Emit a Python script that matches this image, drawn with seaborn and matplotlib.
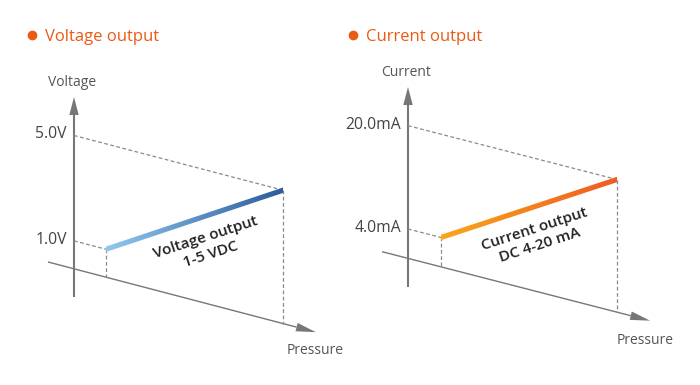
import numpy as np
import matplotlib
matplotlib.use("Agg")
import matplotlib.pyplot as plt
import pandas as pd
import seaborn as sns
from matplotlib.transforms import Affine2D
from matplotlib.patches import Polygon
from matplotlib.colors import LinearSegmentedColormap

# ---------------- data ----------------
panel_titles = ["Voltage output", "Current output"]
value_axis_labels = ["Voltage", "Current"]
pressure_label = "Pressure"
pressure_span = [0, 100]          # % of pressure range (min -> max)
voltage_values = [1.0, 5.0]       # V
current_values = [4.0, 20.0]      # mA
voltage_ticks = ["1.0V", "5.0V"]
current_ticks = ["4.0mA", "20.0mA"]
inner_labels = ["Voltage output\n1-5 VDC", "Current output\nDC 4-20 mA"]

# ---------------- style / layout ----------------
sns.set_theme(style="white")
plt.rcParams["font.family"] = ["Open Sans", "DejaVu Sans"]

ORANGE = "#ea5a14"
AXIS_GRAY = "#777777"
DASH_GRAY = "#8a8a8a"
TEXT_GRAY = "#555555"

panels = [
    dict(title=panel_titles[0], vlabel=value_axis_labels[0], values=voltage_values,
         ticks=voltage_ticks, inner=inner_labels[0],
         x0=106, sx=1.77, k=0.262, f=275.6, b=26.35, base_v=-0.06,
         axis_x=74, axis_bottom=297, axis_top=97, p_start=-32.8, p_end=118.6,
         title_xy=(32, 35), vlabel_xy=(72, 82), press_xy=(315, 351),
         inner_xy=(208, 246), cmap=["#8fc8ee", "#2c5c9c"]),
    dict(title=panel_titles[1], vlabel=value_axis_labels[1], values=current_values,
         ticks=current_ticks, inner=inner_labels[1],
         x0=441, sx=1.76, k=0.2575, f=263.3, b=6.456, base_v=-0.55,
         axis_x=408, axis_bottom=287, axis_top=87, p_start=-33.5, p_end=118.8,
         title_xy=(353, 35), vlabel_xy=(406, 73), press_xy=(645, 340),
         inner_xy=(537, 237), cmap=["#f8a81c", "#f15a22"]),
]

fig = plt.figure(figsize=(7, 3.85), dpi=100)
ax = fig.add_axes([0, 0, 1, 1])
ax.set_xlim(0, 700)
ax.set_ylim(385, 0)
ax.axis("off")


def arrow(x1, y1, x2, y2, lw, head_len, head_hw, color):
    d = np.array([x2 - x1, y2 - y1], float)
    L = np.hypot(*d)
    u = d / L
    n = np.array([-u[1], u[0]])
    base = np.array([x2, y2]) - u * head_len
    ax.plot([x1, base[0]], [y1, base[1]], color=color, lw=lw, solid_capstyle="butt")
    tri = np.array([[x2, y2], base + n * head_hw, base - n * head_hw])
    ax.fill(tri[:, 0], tri[:, 1], color=color, lw=0)


for P in panels:
    tr = Affine2D.from_values(P["sx"], P["k"] * P["sx"], 0, -P["b"], P["x0"], P["f"]) + ax.transData

    def to_px(p, v):
        return ax.transData.inverted().transform(tr.transform((p, v)))

    # title
    tx, ty = P["title_xy"]
    ax.plot([tx], [ty], "o", color=ORANGE, ms=7, mew=0)
    ax.text(tx + 13, ty, P["title"], color=ORANGE, fontsize=12, fontweight="medium",
            ha="left", va="center_baseline")

    # value axis (vertical arrow)
    arrow(P["axis_x"], P["axis_bottom"], P["axis_x"], P["axis_top"], 1.5, 18, 4.7, AXIS_GRAY)
    ax.text(*P["vlabel_xy"], P["vlabel"], color=TEXT_GRAY, fontsize=10, ha="center", va="center")

    # pressure axis (oblique arrow), at baseline level
    s = to_px(P["p_start"], P["base_v"])
    e = to_px(P["p_end"], P["base_v"])
    arrow(s[0], s[1], e[0], e[1], 1.0, 20, 4.3, AXIS_GRAY)
    ax.text(*P["press_xy"], pressure_label, color=TEXT_GRAY, fontsize=10, ha="center", va="center")

    p_axis = (P["axis_x"] - P["x0"]) / P["sx"]
    lo, hi = P["values"]

    # dashed guide lines (value level -> line endpoint) and drops to pressure axis
    guides = pd.DataFrame({
        "p": [p_axis, pressure_span[0], p_axis, pressure_span[1],
              pressure_span[0], pressure_span[0], pressure_span[1], pressure_span[1]],
        "v": [lo, lo, hi, hi, lo, P["base_v"], hi, P["base_v"]],
        "seg": [0, 0, 1, 1, 2, 2, 3, 3],
    })
    for _, g in guides.groupby("seg"):
        sns.lineplot(data=g, x="p", y="v", ax=ax, transform=tr, color=DASH_GRAY,
                     lw=0.9, linestyle=(0, (3, 2)), estimator=None, sort=False, legend=False)

    # tick labels
    for val, lab in zip(P["values"], P["ticks"]):
        px = to_px(p_axis, val)
        ax.text(P["axis_x"] - 7, px[1] - 1, lab, color="#444444", fontsize=11.3,
                ha="right", va="center")

    # gradient output line: clipped gradient image between the two data endpoints
    a = to_px(pressure_span[0], lo)
    c = to_px(pressure_span[1], hi)
    hw = 2.7
    poly = Polygon([[a[0], a[1] - hw], [c[0], c[1] - hw], [c[0], c[1] + hw], [a[0], a[1] + hw]],
                   closed=True, transform=ax.transData, facecolor="none", edgecolor="none")
    ax.add_patch(poly)
    cmap = LinearSegmentedColormap.from_list("g", P["cmap"])
    grad = np.linspace(0, 1, 256).reshape(1, -1)
    im = ax.imshow(grad, cmap=cmap, aspect="auto", interpolation="bilinear",
                   extent=[a[0], c[0], a[1] + 6, c[1] - 6], zorder=3)
    im.set_clip_path(poly)

    # inner label
    ax.text(*P["inner_xy"], P["inner"], rotation=18, rotation_mode="anchor",
            ha="center", va="center", multialignment="center", fontsize=11,
            fontweight="semibold", color="#222222", linespacing=1.3)

ax.set_xlim(0, 700)
ax.set_ylim(385, 0)
ax.set_xlabel("")
ax.set_ylabel("")
fig.savefig("out.png", dpi=100, facecolor="white")
